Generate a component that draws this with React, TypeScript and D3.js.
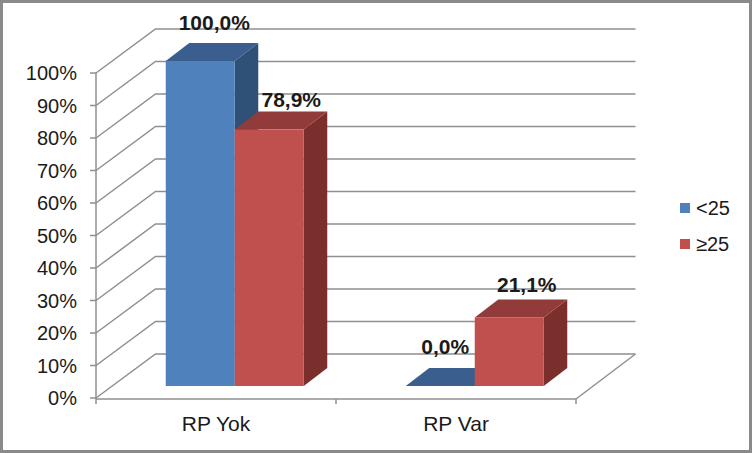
import React from 'react';
import * as d3 from 'd3';

const categories = ['RP Yok', 'RP Var'];
const seriesNames = ['<25', '≥25'];
const valuesUnder25 = [100, 0];
const valuesOver25 = [78.9, 21.1];
const valueLabels = [['100,0%', '78,9%'], ['0,0%', '21,1%']];
const yTicks = [0, 10, 20, 30, 40, 50, 60, 70, 80, 90, 100];

const W = 752;
const H = 453;
const FONT = '"Liberation Sans", Arial, sans-serif';

const colors = [
  { front: '#4f81bd', top: '#3a5f8e', side: '#2f5077' },
  { front: '#c0504d', top: '#913c3a', side: '#7b2f2d' }
];
const gridColor = '#8f8f8f';

// 3D box layout
const wallDx = 59.5;
const wallDy = -44;
const barShiftX = 18.75;
const barShiftY = -12;
const barDepthX = 23.5;
const barDepthY = -18;
const labelOffsets = [[[14, -39], [22, -30.5]], [[5, -40], [17.5, -32.5]]];

const y = d3.scaleLinear().domain([0, 100]).range([398, 73]);
const x0 = d3.scaleBand().domain(categories).range([96, 576]).paddingInner(0.425).paddingOuter(0.2125);
const x1 = d3.scaleBand().domain(seriesNames).range([0, x0.bandwidth()]);
const bandStep = x0.step();

const App: React.FC = () => {
  const series = [valuesUnder25, valuesOver25];
  const axisLeft = x0.range()[0];
  const axisRight = x0.range()[1];

  const bars: React.ReactNode[] = [];
  const labels: React.ReactNode[] = [];
  categories.forEach((cat, ci) => {
    seriesNames.forEach((name, si) => {
      const c = colors[si];
      const left = (x0(cat) as number) + (x1(name) as number) + barShiftX;
      const right = left + x1.bandwidth();
      const bottom = y(0) + barShiftY;
      const top = y(series[si][ci]) + barShiftY;
      const tl = `${left},${top}`;
      const tr = `${right},${top}`;
      const br = `${right},${bottom}`;
      const trb = `${right + barDepthX},${top + barDepthY}`;
      const tlb = `${left + barDepthX},${top + barDepthY}`;
      const brb = `${right + barDepthX},${bottom + barDepthY}`;
      bars.push(
        <g key={cat + name}>
          <polygon points={`${tr} ${trb} ${brb} ${br}`} fill={c.side} />
          <polygon points={`${tl} ${tlb} ${trb} ${tr}`} fill={c.top} />
          <rect x={left} y={top} width={right - left} height={bottom - top} fill={c.front} />
        </g>
      );
      labels.push(
        <text
          key={cat + name}
          x={(left + right) / 2 + labelOffsets[ci][si][0]}
          y={top + labelOffsets[ci][si][1]}
          dy="0.36em"
          textAnchor="middle"
          fontWeight="bold"
          fontSize={21}
        >
          {valueLabels[ci][si]}
        </text>
      );
    });
  });

  return (
    <svg
      width={W}
      height={H}
      viewBox={`0 0 ${W} ${H}`}
      fontFamily={FONT}
      fill="#1a1a1a"
      style={{ position: 'fixed', left: 0, top: 0, display: 'block' }}
    >
      <rect x={1.5} y={1.5} width={W - 3} height={H - 3} fill="#fff" stroke="#8a8a8a" strokeWidth={3} />

      {/* walls and gridlines */}
      <g stroke={gridColor} strokeWidth={1.5} fill="none">
        {yTicks.map(t => (
          <g key={t}>
            <path d={`M${axisLeft},${y(t)}L${axisLeft + wallDx},${y(t) + wallDy}L${axisRight + wallDx},${y(t) + wallDy}`} />
            <line x1={axisLeft - 6} x2={axisLeft} y1={y(t)} y2={y(t)} />
          </g>
        ))}
        <line x1={axisLeft} x2={axisLeft} y1={y(100)} y2={y(0) + 1} />
        <line x1={axisLeft} x2={axisRight} y1={y(0) + 1} y2={y(0) + 1} />
        <line x1={axisRight} x2={axisRight + wallDx} y1={y(0) + 1} y2={y(0) + wallDy} />
        {d3.range(categories.length + 1).map(i => (
          <line
            key={i}
            x1={axisLeft + i * bandStep}
            x2={axisLeft + i * bandStep}
            y1={y(0) + 1}
            y2={y(0) + 6}
          />
        ))}
      </g>

      {bars}
      {labels}

      <g fontSize={20}>
        {yTicks.map(t => (
          <text key={t} x={77} y={y(t)} dy="0.36em" textAnchor="end">{`${t}%`}</text>
        ))}
        {categories.map(cat => (
          <text key={cat} x={(x0(cat) as number) + x0.bandwidth() / 2} y={423} dy="0.36em" textAnchor="middle" fontSize={21}>
            {cat}
          </text>
        ))}
        {seriesNames.map((name, i) => (
          <g key={name} transform={`translate(680,${203 + i * 36})`}>
            <rect width={10} height={10} fill={colors[i].front} />
            <text x={16} y={5} dy="0.36em">{name}</text>
          </g>
        ))}
      </g>
    </svg>
  );
};

export default App;
